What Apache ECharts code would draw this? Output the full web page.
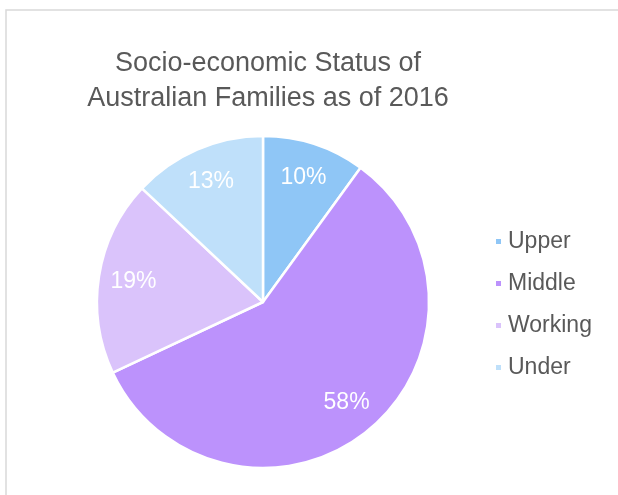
<!DOCTYPE html>
<html>
<head>
<meta charset="utf-8">
<style>
  html, body { margin: 0; padding: 0; background: #fff; overflow: hidden; }
  #chart { width: 618px; height: 495px; }
</style>
<script src="https://cdn.jsdelivr.net/npm/echarts@6/dist/echarts.min.js"></script>
</head>
<body>
<div id="chart"></div>
<script>
// chart data, clockwise from 12 o'clock
const categories = ['Upper', 'Middle', 'Working', 'Under']
const shares = [10, 58, 19, 13]
const colors = ['#8fc6f6', '#bc92fc', '#dac3fb', '#bfe0fa']

const CX = 263
const CY = 302
const R = 166

const chart = echarts.init(document.getElementById('chart'))

// push the inside labels out toward the rim, like the original
function moveLabel(params) {
  const r = params.labelRect
  const lx = r.x + r.width / 2
  const ly = r.y + r.height / 2
  const dx = lx - CX
  const dy = ly - CY
  const d = Math.hypot(dx, dy) || 1
  const k = (R * 0.79) / d
  return { x: CX + dx * k, y: CY + dy * k, align: 'center', verticalAlign: 'middle' }
}

chart.setOption({
  animation: false,
  textStyle: { fontFamily: 'Liberation Sans, Arial, sans-serif' },
  graphic: [{
    type: 'rect',
    shape: { x: 6, y: 10, width: 700, height: 600 },
    style: { fill: 'none', stroke: '#d9d9d9', lineWidth: 1.5 },
    silent: true
  }],
  title: {
    text: 'Socio-economic Status of\nAustralian Families as of 2016',
    left: 263,
    textAlign: 'center',
    top: 41,
    textStyle: { fontSize: 27, fontWeight: 'normal', color: '#595959', lineHeight: 35 }
  },
  legend: {
    orient: 'vertical',
    left: 489,
    top: 225,
    itemWidth: 7,
    itemHeight: 7,
    itemGap: 19,
    icon: 'rect',
    textStyle: { fontSize: 23, color: '#595959', lineHeight: 23, padding: [0, 0, 0, 1] },
    data: categories
  },
  series: [{
    type: 'pie',
    center: [CX, CY],
    radius: R,
    startAngle: 90,
    clockwise: true,
    data: categories.map((name, i) => ({ name, value: shares[i], itemStyle: { color: colors[i] } })),
    itemStyle: { borderColor: '#fff', borderWidth: 2.5 },
    label: {
      show: true,
      position: 'inside',
      formatter: '{c}%',
      color: '#fff',
      fontSize: 23
    },
    labelLine: { show: false },
    labelLayout: moveLabel,
    emphasis: { disabled: true }
  }]
})
</script>
</body>
</html>
